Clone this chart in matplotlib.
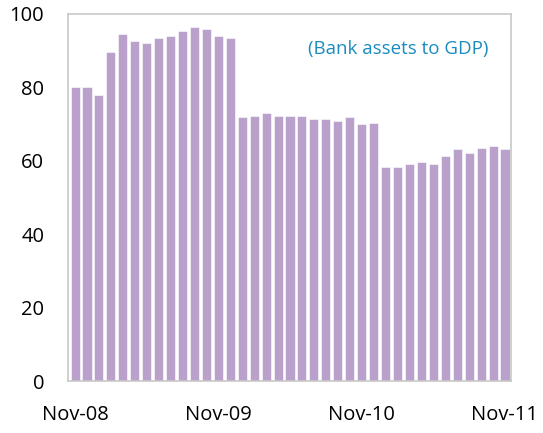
import matplotlib
matplotlib.use("Agg")
import matplotlib.pyplot as plt
import numpy as np

# monthly, Nov-08 .. Nov-11
months = ["Nov-08", "Dec-08", "Jan-09", "Feb-09", "Mar-09", "Apr-09", "May-09", "Jun-09",
          "Jul-09", "Aug-09", "Sep-09", "Oct-09", "Nov-09", "Dec-09", "Jan-10", "Feb-10",
          "Mar-10", "Apr-10", "May-10", "Jun-10", "Jul-10", "Aug-10", "Sep-10", "Oct-10",
          "Nov-10", "Dec-10", "Jan-11", "Feb-11", "Mar-11", "Apr-11", "May-11", "Jun-11",
          "Jul-11", "Aug-11", "Sep-11", "Oct-11", "Nov-11"]
bank_assets_gdp = [80.0, 80.0, 78.0, 89.6, 94.5, 92.6, 92.0, 93.4, 94.0, 95.3, 96.4, 95.9,
                   94.0, 93.4, 71.8, 72.3, 72.9, 72.3, 72.2, 72.2, 71.3, 71.3, 70.8, 71.8,
                   69.9, 70.4, 58.3, 58.3, 59.2, 59.7, 59.2, 61.2, 63.2, 62.2, 63.6, 64.1, 63.2]
tick_labels = ["Nov-08", "Nov-09", "Nov-10", "Nov-11"]

plt.rcParams["font.family"] = ["Open Sans", "DejaVu Sans"]

fig = plt.figure(figsize=(5.43, 4.33), dpi=100)
ax = fig.add_axes([0.125, 0.12, 0.816, 0.848])

x = np.arange(len(months))
ax.bar(x, bank_assets_gdp, width=0.76, color="#BAA1CB", edgecolor="white", linewidth=0.4)

ax.set_ylim(0, 100)
ax.set_yticks(range(0, 101, 20))
ax.set_xlim(-0.6, len(months) - 0.5)
tick_pos = [months.index(t) for t in tick_labels]
ax.set_xticks(tick_pos)
ax.set_xticklabels(tick_labels)

ax.tick_params(axis="both", length=0, labelsize=14.5, colors="black")
ax.tick_params(axis="x", pad=17)
ax.tick_params(axis="y", pad=17)
for s in ax.spines.values():
    s.set_color("#C8C8C8")
    s.set_linewidth(1.2)

ax.text(0.95, 0.905, "(Bank assets to GDP)", transform=ax.transAxes, ha="right", va="center",
        fontsize=13.5, color="#1A8CBF")

fig.savefig("out.png", dpi=100)
